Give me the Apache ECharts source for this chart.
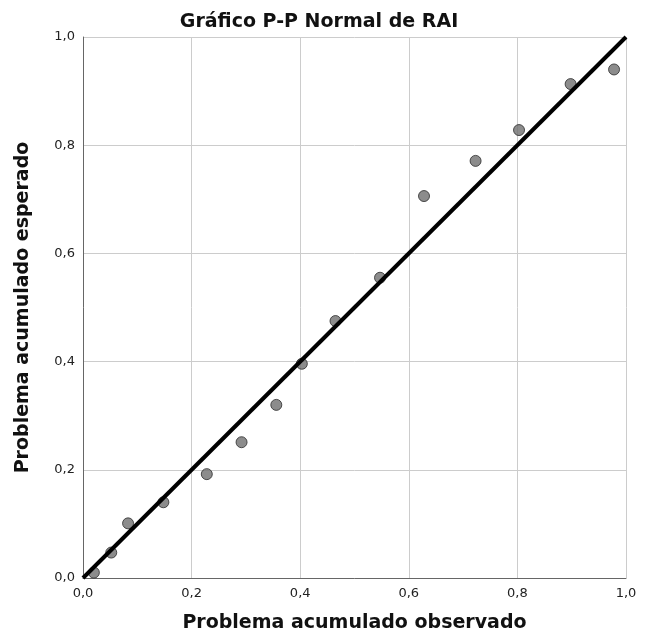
<!DOCTYPE html>
<html>
<head>
<meta charset="utf-8">
<script src="https://cdn.jsdelivr.net/npm/echarts@6/dist/echarts.min.js"></script>
<style>
  html, body { margin: 0; padding: 0; background: #fff; }
  #main { width: 646px; height: 642px; }
</style>
</head>
<body>
<div id="main"></div>
<script>
// datos
var observado = [0.02, 0.052, 0.083, 0.148, 0.228, 0.292, 0.356, 0.403, 0.465, 0.547, 0.628, 0.723, 0.803, 0.898, 0.978];
var esperado = [0.01, 0.047, 0.101, 0.140, 0.192, 0.251, 0.320, 0.396, 0.475, 0.555, 0.706, 0.771, 0.828, 0.913, 0.940];
var lineaX = [0, 1];
var lineaY = [0, 1];
var ticks = [0, 0.2, 0.4, 0.6, 0.8, 1.0];

var puntos = observado.map(function (v, i) { return [v, esperado[i]]; });
var linea = lineaX.map(function (v, i) { return [v, lineaY[i]]; });

var myChart = echarts.init(document.getElementById('main'));
var fmt = function (v) { return v.toFixed(1).replace('.', ','); };
var font = 'DejaVu Sans';

var option = {
  backgroundColor: '#fff',
  animation: false,
  title: {
    text: 'Gráfico P-P Normal de RAI',
    left: 314,
    top: 8,
    textAlign: 'center',
    textStyle: { fontFamily: font, fontSize: 19, fontWeight: 'bold', color: '#111' }
  },
  grid: { left: 83, right: 20, top: 37, bottom: 64 },
  xAxis: {
    type: 'value',
    min: ticks[0],
    max: ticks[ticks.length - 1],
    interval: 0.2,
    name: 'Problema acumulado observado',
    nameLocation: 'middle',
    nameGap: 36,
    nameTextStyle: { fontFamily: font, fontSize: 19, fontWeight: 'bold', color: '#111' },
    axisLine: { lineStyle: { color: '#666', width: 1 } },
    axisTick: { show: false },
    axisLabel: { formatter: fmt, fontFamily: font, fontSize: 13, color: '#222', margin: 9 },
    splitLine: { show: true, lineStyle: { color: '#cccccc', width: 1 } }
  },
  yAxis: {
    type: 'value',
    min: ticks[0],
    max: ticks[ticks.length - 1],
    interval: 0.2,
    name: 'Problema acumulado esperado',
    nameLocation: 'middle',
    nameGap: 50,
    nameTextStyle: { fontFamily: font, fontSize: 19, fontWeight: 'bold', color: '#111' },
    axisLine: { show: true, lineStyle: { color: '#666', width: 1 } },
    axisTick: { show: false },
    axisLabel: { formatter: fmt, fontFamily: font, fontSize: 13, color: '#222', margin: 8 },
    splitLine: { show: true, lineStyle: { color: '#cccccc', width: 1 } }
  },
  series: [
    {
      type: 'scatter',
      data: puntos,
      symbol: 'circle',
      symbolSize: 11,
      itemStyle: { color: '#6f6f6f', borderColor: '#2a2a2a', borderWidth: 1 },
      z: 2
    },
    {
      type: 'line',
      data: linea,
      symbol: 'none',
      lineStyle: { color: '#000', width: 4 },
      z: 3
    }
  ]
};
myChart.setOption(option);
</script>
</body>
</html>
